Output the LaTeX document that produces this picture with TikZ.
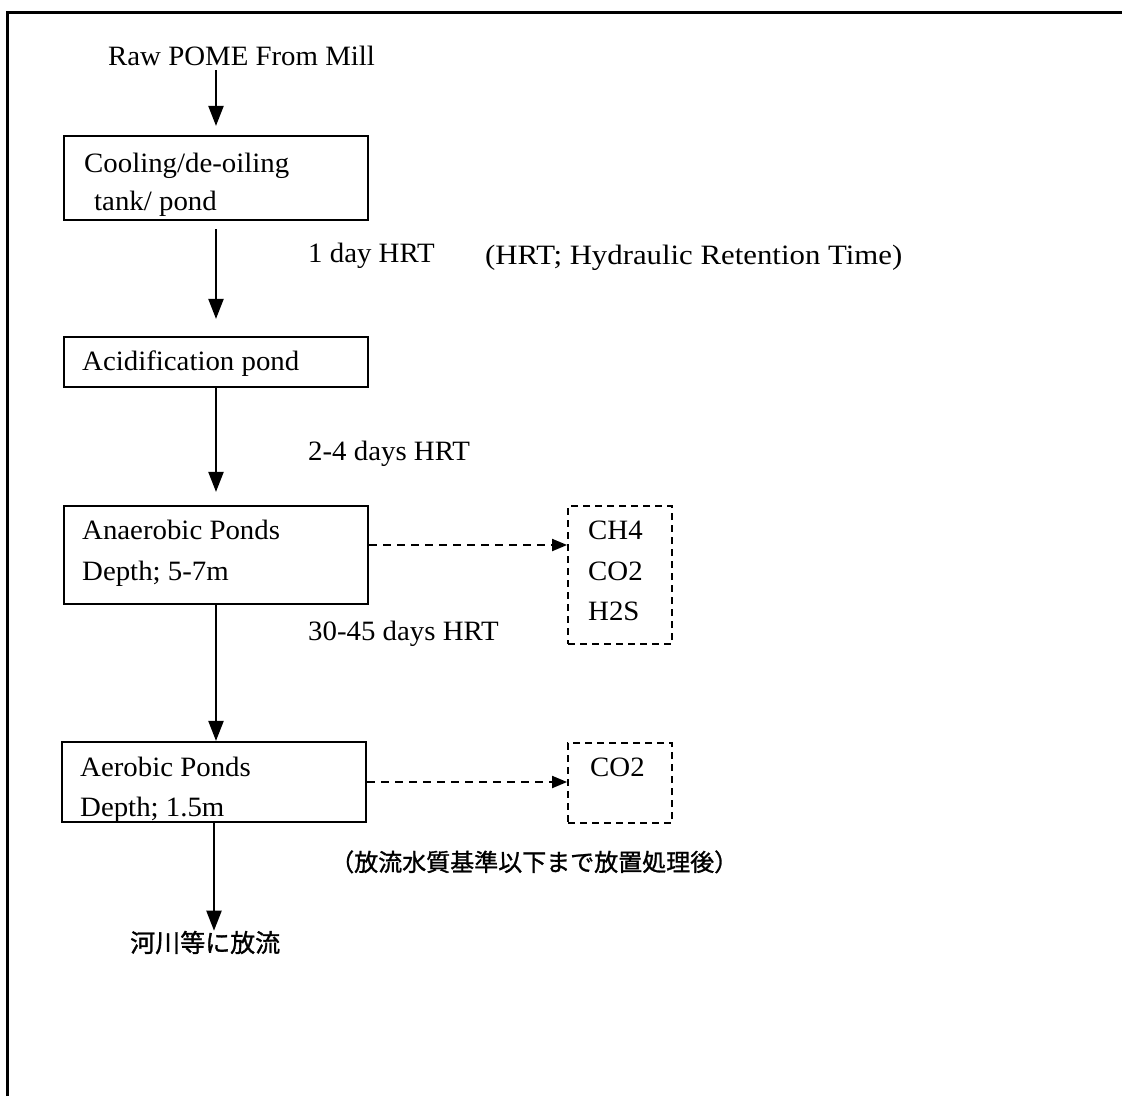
\documentclass[tikz,border=0pt]{standalone}
\usepackage{fontspec}
\setmainfont{Liberation Serif}[FakeStretch=1.03]
\newfontfamily\cjk{Noto Sans CJK JP}[FakeBold=1.2]
\usetikzlibrary{arrows.meta}
\begin{document}
\begin{tikzpicture}[x=1pt,y=-1pt,
 box/.style={draw, line width=2.2pt, inner sep=0pt, minimum width=304pt},
 gas/.style={draw, dash pattern=on 7pt off 5pt, line width=1.8pt, inner sep=0pt, minimum width=104pt},
 txt/.style={anchor=base west, inner sep=0pt, font=\fontsize{28}{34}\selectfont},
 jp/.style={anchor=base west, inner sep=0pt, font=\cjk\fontsize{24}{28}\selectfont},
 arr/.style={line width=2.2pt, -{Triangle[length=20pt,width=15pt]}},
 darr/.style={line width=1.9pt, dash pattern=on 8pt off 6pt, -{Triangle[length=15pt,width=12pt]}}]
\useasboundingbox (0,0) rectangle (1122,1096);
\draw[line width=3pt] (7,1096) -- (7,12) -- (1122,12);

% boxes
\node[box, minimum height=84pt] (b1) at (216,178) {};
\node[box, minimum height=50pt] (b2) at (216,362) {};
\node[box, minimum height=98pt] (b3) at (216,555) {};
\node[box, minimum height=80pt] (b4) at (214,782) {};
\node[gas, minimum height=138pt] (g1) at (620,575) {};
\node[gas, minimum height=80pt] (g2) at (620,783) {};

% texts
\node[txt] (raw) at (108,65) {Raw POME From Mill};
\node[txt] (t1a) at (84,172) {Cooling/de-oiling};
\node[txt] (t1b) at (94,210) {tank/ pond};
\node[txt] (hrt1) at (308,262) {1 day HRT};
\node[txt, font=\fontsize{28}{34}\selectfont\addfontfeature{FakeStretch=1.1}] (hrtdef) at (485,264) {(HRT; Hydraulic Retention Time)};
\node[txt] (t2) at (82,370) {Acidification pond};
\node[txt] (hrt2) at (308,460) {2-4 days HRT};
\node[txt] (t3a) at (82,539) {Anaerobic Ponds};
\node[txt] (t3b) at (82,580) {Depth; 5-7m};
\node[txt] (ch4) at (588,539) {CH4};
\node[txt] (co2a) at (588,580) {CO2};
\node[txt] (h2s) at (588,620) {H2S};
\node[txt] (hrt3) at (308,640) {30-45 days HRT};
\node[txt] (t4a) at (80,776) {Aerobic Ponds};
\node[txt] (t4b) at (80,816) {Depth; 1.5m};
\node[txt] (co2b) at (590,776) {CO2};
\node[jp] (note) at (330,871) {（放流水質基準以下まで放置処理後）};
\node[jp, font=\cjk\fontsize{25}{28}\selectfont] (river) at (130,952) {河川等に放流};

% connectors
\draw[arr, shorten >=9pt] ([yshift=-5pt]b1.north |- raw.south) -- (b1.north);
\draw[arr, shorten >=17pt] ([yshift=-8pt]b1.south) -- (b2.north);
\draw[arr, shorten >=13pt] (b2.south) -- (b3.north);
\draw[arr] (b3.south) -- (b3.south |- b4.north);
\draw[arr] (b4.south) -- (b4.south |- river.north);
\draw[darr] ([yshift=10pt]b3.east) -- ([yshift=10pt]b3.east -| g1.west);
\draw[darr] (b4.east) -- (b4.east -| g2.west);
\end{tikzpicture}
\end{document}
